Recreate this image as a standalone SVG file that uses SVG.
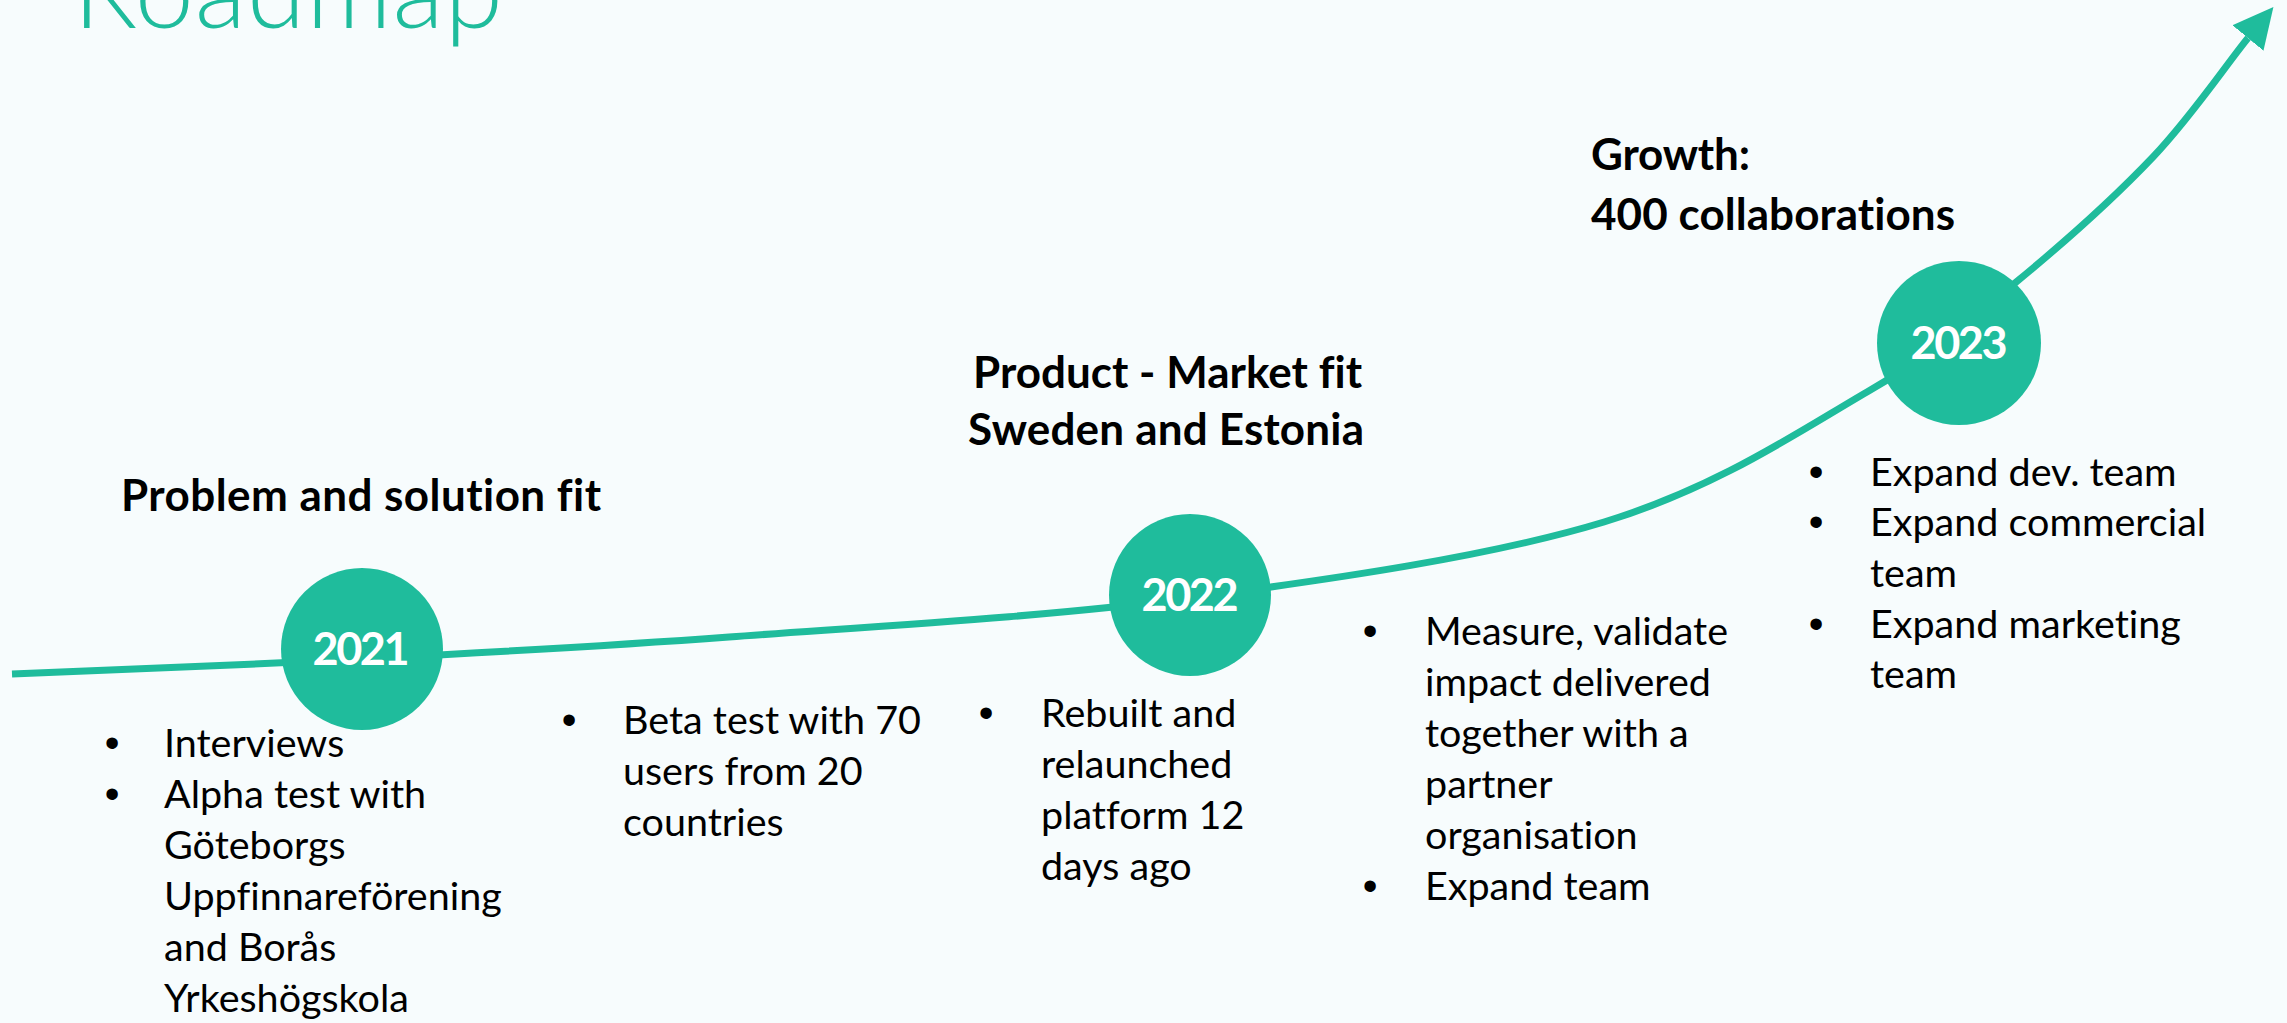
<svg xmlns="http://www.w3.org/2000/svg" width="2287" height="1023" viewBox="0 0 2287 1023">
<defs>
<style>
text{font-variant-ligatures:none}
.title{font-family:Lato,"Open Sans",sans-serif;font-weight:300;font-size:106px;fill:#1FBC9C}
.head{font-family:Lato,"Liberation Sans",sans-serif;font-weight:700;font-size:44px;fill:#000}
.body{font-family:Lato,"Liberation Sans",sans-serif;font-weight:400;font-size:39.5px;fill:#000}
.bul{font-family:"Liberation Sans",Arial,sans-serif;font-size:42px;fill:#000;text-anchor:middle}
.year{font-family:Lato,"Liberation Sans",sans-serif;font-weight:700;font-size:45px;fill:#fff;text-anchor:middle}
.dot{fill:#1FBC9C}
.curve{fill:none;stroke:#1FBC9C;stroke-width:7}
</style>
<marker id="arrow" viewBox="0 0 40 40" refX="0" refY="20" markerWidth="40" markerHeight="40" markerUnits="userSpaceOnUse" orient="auto">
<path d="M0,0 L40,20 L0,40 Z" fill="#1FBC9C"/>
</marker>
</defs>
<rect x="0" y="0" width="2287" height="1023" fill="#F7FCFD"/>
<text id="title" class="title" x="73" y="28" textLength="430">Roadmap</text>

<g id="connectors">
<path class="curve" marker-end="url(#arrow)" d="M12,674 C70,672 242.5,665 362,659 C481.5,652.8 591,647.2 729,637 C867,626.8 1044.2,617.2 1190,598 C1335.8,578.8 1491.2,556.3 1604,522 C1716.8,487.7 1798.5,431.8 1867,392 C1935.5,352.2 1967.3,322.2 2015,283 C2062.7,243.8 2114.2,197.8 2153,157 C2191.8,116.2 2227.6,62.8 2248,38"/>
</g>

<g id="node-2021">
<circle class="dot" cx="362" cy="649" r="81"/>
<text class="year" x="361" y="665" textLength="97">2021</text>
</g>
<g id="node-2022">
<circle class="dot" cx="1190" cy="595" r="81"/>
<text class="year" x="1190" y="611" textLength="97">2022</text>
</g>
<g id="node-2023">
<circle class="dot" cx="1959" cy="343" r="82"/>
<text class="year" x="1959" y="359" textLength="97">2023</text>
</g>

<g id="heading-2021">
<text class="head" x="121" y="511" textLength="480">Problem and solution fit</text>
</g>
<g id="heading-2022">
<text class="head" x="973" y="388" textLength="389">Product - Market fit</text>
<text class="head" x="968" y="445" textLength="396">Sweden and Estonia</text>
</g>
<g id="heading-2023">
<text class="head" x="1591" y="170" textLength="159">Growth:</text>
<text class="head" x="1591" y="230" textLength="364">400 collaborations</text>
</g>

<g id="list-1">
<text class="bul" x="112" y="757">•</text>
<text class="body" x="164" y="757">Interviews</text>
<text class="bul" x="112" y="808">•</text>
<text class="body" x="164" y="808">Alpha test with</text>
<text class="body" x="164" y="859">Göteborgs</text>
<text class="body" x="164" y="910">Uppfinnareförening</text>
<text class="body" x="164" y="961">and Borås</text>
<text class="body" x="164" y="1012">Yrkeshögskola</text>
</g>
<g id="list-2">
<text class="bul" x="569" y="734">•</text>
<text class="body" x="623" y="734">Beta test with 70</text>
<text class="body" x="623" y="785">users from 20</text>
<text class="body" x="623" y="836">countries</text>
</g>
<g id="list-3">
<text class="bul" x="986" y="727">•</text>
<text class="body" x="1041" y="727">Rebuilt and</text>
<text class="body" x="1041" y="778">relaunched</text>
<text class="body" x="1041" y="829">platform 12</text>
<text class="body" x="1041" y="880">days ago</text>
</g>
<g id="list-4">
<text class="bul" x="1370" y="645">•</text>
<text class="body" x="1425" y="645">Measure, validate</text>
<text class="body" x="1425" y="696">impact delivered</text>
<text class="body" x="1425" y="747">together with a</text>
<text class="body" x="1425" y="798">partner</text>
<text class="body" x="1425" y="849">organisation</text>
<text class="bul" x="1370" y="900">•</text>
<text class="body" x="1425" y="900">Expand team</text>
</g>
<g id="list-5">
<text class="bul" x="1816" y="486">•</text>
<text class="body" x="1870" y="486">Expand dev. team</text>
<text class="bul" x="1816" y="536">•</text>
<text class="body" x="1870" y="536">Expand commercial</text>
<text class="body" x="1870" y="587">team</text>
<text class="bul" x="1816" y="638">•</text>
<text class="body" x="1870" y="638">Expand marketing</text>
<text class="body" x="1870" y="688">team</text>
</g>
</svg>
